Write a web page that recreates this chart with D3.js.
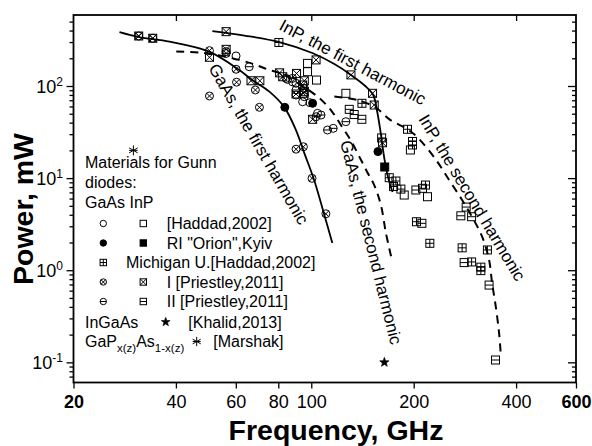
<!DOCTYPE html>
<html><head><meta charset="utf-8">
<script src="https://cdn.jsdelivr.net/npm/d3@7"></script>
<style>
body{margin:0;background:#fff;}
svg{display:block;font-family:"Liberation Sans",Arial,Helvetica,sans-serif;}
</style></head><body>
<svg id="c" width="592" height="446"></svg>
<script>
// ---------- data ----------
const xTicks=[20,40,60,80,100,200,400,600];
const xTopTicks=[40,100,200,400];
const yTicks=[0.1,1,10,100];
const yTickExp=["-1","0","1","2"];

// model curves [GHz, mW]
const gaasFirst=[[27.3,385],[31.2,340],[38.3,303],[50.1,236],[61.4,149],[67.1,116],[75.3,87],[83.3,59],[90.2,33],[95.4,18.7],[102,9.5],[109.2,4.0],[115.3,1.97]];
const inpFirst=[[51.2,395],[63.6,353],[80.5,300],[100.7,228],[116.9,173],[130.8,132],[144.1,100],[152.1,79.8],[156.3,52.2],[159.5,33.3],[163.9,16.5],[168.4,10],[173.3,7.06]];
const gaasSecond=[[40.1,237],[46.9,231],[55.5,209],[66.7,176],[75.3,149],[82.2,135],[92.2,105],[105.5,74.1],[115.3,52.2],[122.2,37.7],[131,25.3],[138.4,17.1],[146.1,11.6],[153.1,8.4],[160.2,5.1],[165.7,2.54],[171.8,1.39]];
const inpSecond=[[116.9,76.9],[138.4,69.6],[155.2,57.7],[170.6,42.8],[190.1,34.6],[204.8,27.9],[232.9,15.7],[254.3,9.5],[277.6,5.78],[297.1,3.78],[317.9,2.31],[333.2,1.29],[340,0.726],[348.6,0.402],[356.5,0.208],[360.7,0.12]];

// experimental points [GHz, mW]
const gaasHaddad=[[56.2,236],[60.1,212],[85.2,118],[88.1,111],[90.2,107],[90.2,90.5],[90.2,79.8],[95.4,76.5],[94.3,67.5],[99.1,65.9],[104.3,50.5],[84.3,121]];
const inpHaddad=[[97.5,176],[97.5,143],[103.6,116],[126.4,83.3],[195.6,20.2],[187.6,6.55],[219.6,6.28]];
const gaasOrion=[[83.6,58.7],[100.9,64.9],[157,19.4]];
const inpOrion=[[164.4,13.2]];
const michigan=[[80.3,297],[140.9,64.9],[161,27.3],[191.8,33.9],[198.4,25],[198.4,22.9],[169.5,10.1],[177.3,9.3],[174.5,8.1],[183.4,7.6],[216.6,8.41],[203.8,3.36],[223.1,1.96],[277.6,1.75],[329.4,1.66],[296,1.23],[315.1,1.08],[315.1,0.99]];
const gaasPriestleyI=[[31.1,349],[34.2,330],[50.2,242],[56.2,226],[60.1,152],[60.3,110],[68.5,90.5],[50.2,77.9],[70.4,58.7],[95.4,94.4],[90.2,20.6],[94.8,21.9],[100.5,9.95],[110.4,4.1]];
const inpPriestleyI=[[31.1,349],[34.2,330],[56.2,389],[50.2,205],[56.2,250],[66.5,114],[70.6,114],[80.7,139],[82.4,126],[90.5,137],[95.4,114],[94.3,102.5],[95.4,86.7],[90.2,81.9],[94.8,83.3],[103.3,192],[100.9,43.5],[130.8,132],[151.4,83.3],[153.1,62.2],[162,24.2]];
const gaasPriestleyII=[[65.7,162],[88.1,121],[106.8,48.4],[103.3,46.4],[111.6,33.3],[116,34.7],[126.4,41.0]];
const inpPriestleyII=[[129.3,55.8],[133.7,49],[140.8,43.5],[203,7.43],[212.3,7.75],[211.4,3.23],[285.3,4.85],[275.2,3.9],[296,3.81],[281.4,1.21],[333.2,0.69],[348,0.106]];
const khalid=[[164,0.1]];
const marshak=[[30,20]];

// ---------- chart ----------
const svg=d3.select("#c");
const L=73.5,R=576,T=15,B=382.5;
const x=d3.scaleLog().domain([20,600]).range([L,R]);
const y=d3.scaleLog().domain([0.0604,590]).range([B,T]);

// minor y ticks
const yMinor=[];
for(let e=-2;e<=2;e++){for(let m=2;m<=9;m++){const v=m*Math.pow(10,e);if(v>=0.0604&&v<=590)yMinor.push(v);}}

function styleAxis(g){g.select(".domain").remove();g.selectAll("line").attr("stroke","#000").attr("stroke-width",1.3);}

svg.append("g").attr("transform",`translate(0,${B})`)
  .call(d3.axisBottom(x).tickValues(xTicks).tickSize(6).tickSizeOuter(0).tickFormat(d=>d))
  .call(styleAxis)
  .call(g=>g.selectAll("text").attr("y",13).attr("font-size",18).attr("fill","#000")
        .attr("font-family","'Liberation Sans',Arial,sans-serif")
        .attr("font-weight",d=>(d===20||d===600)?"bold":"normal"));
svg.append("g").attr("transform",`translate(0,${T})`)
  .call(d3.axisBottom(x).tickValues(xTopTicks).tickSize(6).tickSizeOuter(0).tickFormat(""))
  .call(styleAxis);
svg.append("g").attr("transform",`translate(${L},0)`)
  .call(d3.axisLeft(y).tickValues(yTicks).tickSize(7).tickSizeOuter(0).tickFormat(""))
  .call(styleAxis);
svg.append("g").attr("transform",`translate(${L},0)`)
  .call(d3.axisLeft(y).tickValues(yMinor).tickSize(4).tickSizeOuter(0).tickFormat(""))
  .call(styleAxis);
svg.append("g").attr("transform",`translate(${R},0)`)
  .call(d3.axisLeft(y).tickValues(yTicks).tickSize(8).tickSizeOuter(0).tickFormat(""))
  .call(styleAxis);
svg.append("g").attr("transform",`translate(${R},0)`)
  .call(d3.axisLeft(y).tickValues(yMinor).tickSize(4).tickSizeOuter(0).tickFormat(""))
  .call(styleAxis);

// y tick labels 10^n
yTicks.forEach((v,i)=>{
  const t=svg.append("text").attr("x",63).attr("y",y(v)+7).attr("text-anchor","end").attr("font-size",18);
  t.append("tspan").text("10");
  t.append("tspan").attr("dy",-7.5).attr("font-size",12).text(yTickExp[i]);
});

// frame
svg.append("rect").attr("x",L).attr("y",T).attr("width",R-L).attr("height",B-T)
  .attr("fill","none").attr("stroke","#000").attr("stroke-width",1.8);

// curves
const line=d3.line().x(d=>x(d[0])).y(d=>y(d[1])).curve(d3.curveCatmullRom.alpha(0.5));
const plot=svg.append("g");
plot.append("path").attr("d",line(gaasFirst)).attr("fill","none").attr("stroke","#000").attr("stroke-width",1.8);
plot.append("path").attr("d",line(inpFirst)).attr("fill","none").attr("stroke","#000").attr("stroke-width",1.8);
plot.append("path").attr("d",line(gaasSecond)).attr("fill","none").attr("stroke","#000").attr("stroke-width",2).attr("stroke-dasharray","8,6");
plot.append("path").attr("d",line(inpSecond)).attr("fill","none").attr("stroke","#000").attr("stroke-width",2).attr("stroke-dasharray","8,6");

// marker drawing
function marker(g,type,cx,cy,s){
  const h=s/2, r=s/2;
  const ln=(x1,y1,x2,y2)=>g.append("line").attr("x1",x1).attr("y1",y1).attr("x2",x2).attr("y2",y2).attr("stroke","#000").attr("stroke-width",1);
  const rect=(fill)=>g.append("rect").attr("x",cx-h).attr("y",cy-h).attr("width",s).attr("height",s).attr("stroke","#000").attr("stroke-width",1).attr("fill",fill);
  const circ=(fill)=>g.append("circle").attr("cx",cx).attr("cy",cy).attr("r",r).attr("stroke","#000").attr("stroke-width",1).attr("fill",fill);
  switch(type){
    case "circle": circ("none"); break;
    case "square": rect("none"); break;
    case "fcircle": circ("#000"); break;
    case "fsquare": rect("#000"); break;
    case "sqplus": rect("none"); ln(cx-h,cy,cx+h,cy); ln(cx,cy-h,cx,cy+h); break;
    case "sqx": rect("none"); ln(cx-h,cy-h,cx+h,cy+h); ln(cx-h,cy+h,cx+h,cy-h); break;
    case "cirx": {circ("none"); const k=r*0.707; ln(cx-k,cy-k,cx+k,cy+k); ln(cx-k,cy+k,cx+k,cy-k); break;}
    case "cirh": circ("none"); ln(cx-r,cy,cx+r,cy); break;
    case "sqh": rect("none"); ln(cx-h,cy,cx+h,cy); break;
    case "star": {
      const pts=[]; for(let i=0;i<10;i++){const a=-Math.PI/2+i*Math.PI/5; const rr=(i%2===0)?s*0.62:s*0.26; pts.push([cx+rr*Math.cos(a),cy+rr*Math.sin(a)]);}
      g.append("polygon").attr("points",pts.map(p=>p.join(",")).join(" ")).attr("fill","#000").attr("stroke","#000").attr("stroke-width",0.6); break;}
    case "aster": {
      const rr=s*0.62; [90,30,150].forEach(a=>{const t=a*Math.PI/180; ln(cx-rr*Math.cos(t),cy-rr*Math.sin(t),cx+rr*Math.cos(t),cy+rr*Math.sin(t));}); ln(cx-rr*0.85,cy,cx+rr*0.85,cy); break;}
  }
}
const series=[
  [gaasHaddad,"circle"],[inpHaddad,"square"],[gaasPriestleyII,"cirh"],[inpPriestleyII,"sqh"],
  [gaasPriestleyI,"cirx"],[inpPriestleyI,"sqx"],[michigan,"sqplus"],
  [gaasOrion,"fcircle"],[inpOrion,"fsquare"],[khalid,"star"],[marshak,"aster"]
];
const mg=svg.append("g");
series.forEach(([data,type])=>data.forEach(d=>marker(mg,type,x(d[0]),y(d[1]),8)));

// curve labels
const labels=[
  {t:"InP, the first harmonic",x:278,y:29,a:28,s:17},
  {t:"InP, the second harmonic",x:418,y:119,a:59,s:17},
  {t:"GaAs, the first harmonic",x:208,y:68,a:60,s:17},
  {t:"GaAs, the second harmonic",x:340,y:142,a:76,s:17}
];
labels.forEach(l=>svg.append("text").attr("transform",`translate(${l.x},${l.y}) rotate(${l.a})`).attr("font-size",l.s).text(l.t));

// legend block
const lg=svg.append("g").attr("font-size",16);
[["Materials for Gunn",168],["diodes:",188],["GaAs InP",208]].forEach(([t,yy])=>lg.append("text").attr("x",85).attr("y",yy).text(t));
const legRows=[
  {y:223.5,a:"circle",b:"square",tx:166.7,t:"[Haddad,2002]"},
  {y:243,a:"fcircle",b:"fsquare",tx:166.7,t:"RI \"Orion\",Kyiv"},
  {y:262.5,a:"sqplus",b:null,tx:126,t:"Michigan U.[Haddad,2002]"},
  {y:282,a:"cirx",b:"sqx",tx:166.7,t:"I [Priestley,2011]"},
  {y:301.5,a:"cirh",b:"sqh",tx:166.7,t:"II [Priestley,2011]"}
];
legRows.forEach(r=>{
  marker(lg,r.a,103.3,r.y,6.4);
  if(r.b) marker(lg,r.b,143.3,r.y,6.4);
  lg.append("text").attr("x",r.tx).attr("y",r.y+5.5).text(r.t);
});
lg.append("text").attr("x",85).attr("y",327.5).text("InGaAs");
marker(lg,"star",165.7,322,7.5);
lg.append("text").attr("x",188.3).attr("y",327.5).text("[Khalid,2013]");
const gp=lg.append("text").attr("x",85).attr("y",347);
gp.append("tspan").text("GaP");
gp.append("tspan").attr("font-size",11.5).attr("dy",5).text("x(z)");
gp.append("tspan").attr("dy",-5).text("As");
gp.append("tspan").attr("font-size",11.5).attr("dy",5).text("1-x(z)");
marker(lg,"aster",196.7,341.5,7.5);
lg.append("text").attr("x",213.3).attr("y",347).text("[Marshak]");

// axis titles
svg.append("text").attr("x",336).attr("y",440).attr("text-anchor","middle").attr("font-size",28.5).attr("font-weight","bold").text("Frequency, GHz");
svg.append("text").attr("transform","translate(33,209) rotate(-90)").attr("text-anchor","middle").attr("font-size",28.5).attr("font-weight","bold").text("Power, mW");
</script>
</body></html>
